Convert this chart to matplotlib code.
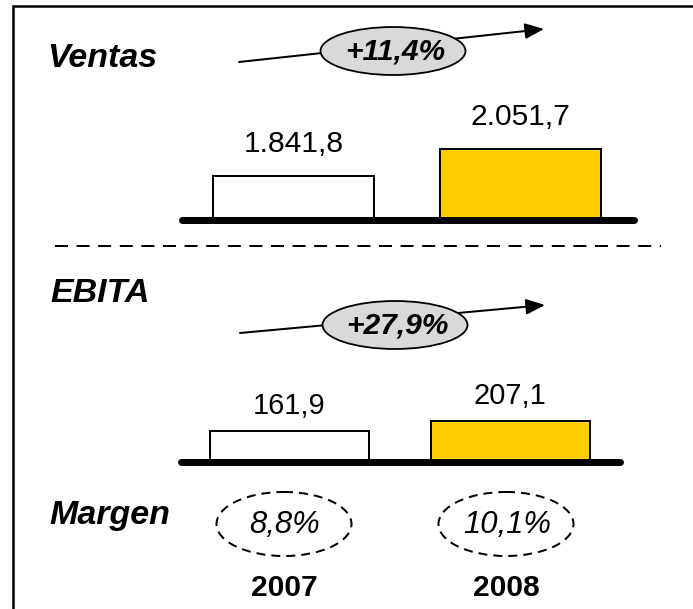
import matplotlib
matplotlib.use("Agg")
import matplotlib.pyplot as plt
from matplotlib.patches import Ellipse

# ---------------- data ----------------
years = ["2007", "2008"]
ventas = [1841.8, 2051.7]
ebita = [161.9, 207.1]
growth_ventas = 11.4
growth_ebita = 27.9
margen = [8.8, 10.1]
bar_colors = ["white", "#FFCC00"]

# ---------------- helpers ----------------
W, H = 693, 609
DPI = 72
FONT = "Liberation Sans"


def es(v, dec=1):
    s = f"{v:,.{dec}f}"
    return s.replace(",", "X").replace(".", ",").replace("X", ".")


fig = plt.figure(figsize=(W / DPI, H / DPI), dpi=DPI)
fig.patch.set_facecolor("white")

ov = fig.add_axes([0, 0, 1, 1])
ov.set_xlim(0, W)
ov.set_ylim(H, 0)
ov.axis("off")


def px_axes(x0, x1, y_top, y_bot):
    return fig.add_axes([x0 / W, 1 - y_bot / H, (x1 - x0) / W, (y_bot - y_top) / H])


# border (runs off right and bottom)
ov.plot([13, 13, 720], [640, 6, 6], color="black", lw=2.5, clip_on=False,
        solid_joinstyle="miter")

# ---------------- headers ----------------
hdr = dict(fontsize=34, fontweight="bold", fontstyle="italic", family=FONT, ha="left", va="baseline")
ov.text(47, 67, "Ventas", **hdr)
ov.text(50, 302, "EBITA", **hdr)
ov.text(49, 524, "Margen", **hdr)

# separator
ov.plot([55, 661], [246, 246], color="black", lw=2, ls=(0, (6.5, 4.3)))


# ---------------- growth arrows ----------------
def growth(start, end, center, val):
    ov.annotate("", xy=end, xytext=start,
                arrowprops=dict(arrowstyle="-|>,head_length=0.8,head_width=0.33",
                                mutation_scale=20, lw=2, color="black",
                                shrinkA=0, shrinkB=0), zorder=2)
    ov.add_patch(Ellipse(center, 145, 48, fc="#D9D9D9", ec="black", lw=1.8, zorder=3))
    ov.text(center[0] + 2, center[1] + 1, f"+{es(val)}%", fontsize=30, fontweight="bold",
            fontstyle="italic", family=FONT, ha="center", va="center", zorder=4)


growth((239, 62), (544, 29), (393, 51), growth_ventas)
growth((240, 333), (545, 305), (395, 325), growth_ebita)


# ---------------- bar panels ----------------
def panel(vals, x0, x1, y_base, base, k, centers, width_px, gap, fs):
    height_px = 100
    ax = px_axes(x0, x1, y_base - height_px, y_base)
    spacing = centers[1] - centers[0]
    xmin = -(centers[0] - x0) / spacing
    xmax = (x1 - centers[0]) / spacing
    ax.set_xlim(xmin, xmax)
    ax.set_ylim(base, base + height_px / k)
    ax.axis("off")
    pos = list(range(len(vals)))
    ax.bar(pos, vals, width=width_px / spacing, color=bar_colors, edgecolor="black", lw=2, zorder=2)
    ax.axhline(base, color="black", lw=7, solid_capstyle="round", clip_on=False, zorder=3)
    for p, v in zip(pos, vals):
        ax.annotate(es(v), xy=(p, v), xytext=(0, gap), textcoords="offset points",
                    ha="center", va="baseline", fontsize=fs, family=FONT, annotation_clip=False)
    return ax


panel(ventas, 181.5, 633.5, 220.5, 1500, 0.1305, (293.5, 520), 161, 24, 30)
panel(ebita, 180.5, 619.5, 461.5, 20, 0.2175, (289, 510), 159, 17, 29)

# ---------------- margins ----------------
mcent = [284, 506]
for cx, m in zip(mcent, margen):
    ov.add_patch(Ellipse((cx, 524), 135, 64, fill=False, ec="black", lw=2, ls=(0, (4.5, 3))))
    ov.text(cx + 1, 525, f"{es(m)}%", fontsize=31, fontstyle="italic", family=FONT,
            ha="center", va="center")

# ---------------- years ----------------
for cx, y in zip(mcent, years):
    ov.text(cx, 596, y, fontsize=30, fontweight="bold", family=FONT, ha="center", va="baseline")

fig.savefig("out.png", dpi=DPI, facecolor="white")
